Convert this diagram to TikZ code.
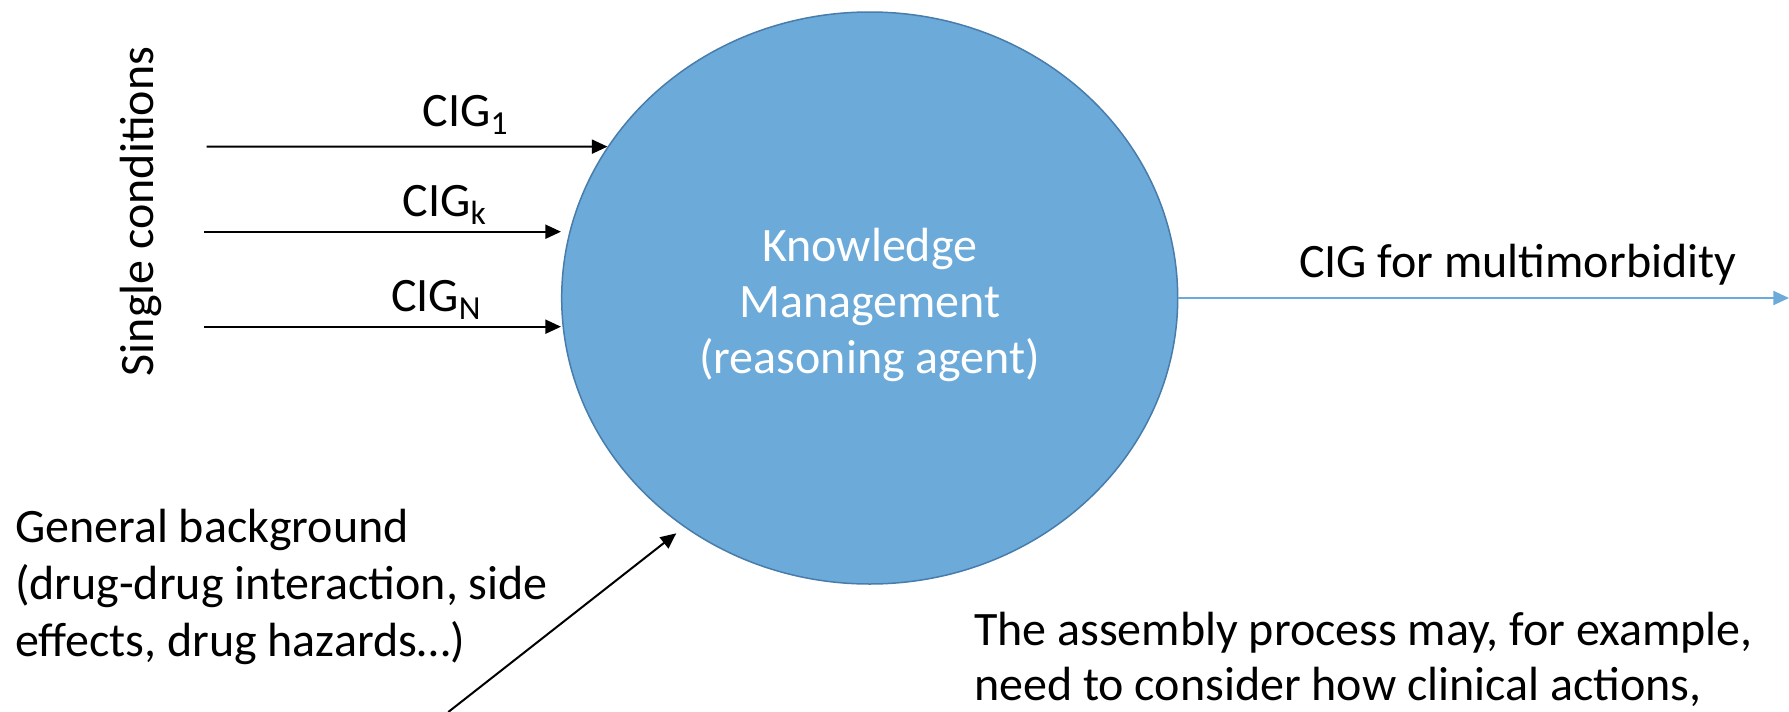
\documentclass[tikz,border=0pt]{standalone}
\usepackage{fontspec}
\setmainfont{Carlito}
\usetikzlibrary{arrows.meta,shapes.geometric}
\definecolor{kmfill}{RGB}{108,170,218}
\definecolor{kmline}{RGB}{72,124,170}

\begin{document}
\begin{tikzpicture}[x=0.5pt,y=-0.5pt,
    every node/.style={inner sep=0pt, font=\fontsize{24}{28.5}\selectfont},
    >={Triangle[length=7.8pt,width=7pt]}, line width=1pt]
    \useasboundingbox (0,0) rectangle (1789,712);
    % the reasoning agent in the middle
    \node (KM) [ellipse, draw=kmline, line width=0.75pt, fill=kmfill,
        minimum width=308pt, minimum height=286pt] at (869.7,298) {};
    \node (KT) [anchor=base, text=white, align=center,
        font=\fontsize{24}{28}\selectfont] at (KM.center |- 0,373)
        {Knowledge\\Management\\(reasoning agent)};
    % guidelines coming in on the left
    \node (SC) [rotate=90, anchor=base] at (153,211.5) {Single conditions};
    \node (C1) [anchor=base west] at (421.7,126.7) {CIG\textsubscript{1}};
    \node (Ck) [anchor=base west] at (401.7,216.7) {CIG\textsubscript{k}};
    \node (CN) [anchor=base west] at (390,311.7) {CIG\textsubscript{N}};
    \coordinate (s1) at (206.7,146.7);
    \coordinate (sk) at (204,231.7);
    \coordinate (sN) at (204,326.7);
    \draw [->] (s1) -- (KM.150);
    \draw [->] (sk) -- (sk -| KM.west);
    \draw [->] (sN) -- (sN -| KM.west);
    % background knowledge from below
    \node (GB) [anchor=base west, align=left] at (14,656.7)
        {General background\\(drug-drug interaction, side\\effects, drug hazards…)};
    \coordinate (b) at (448.3,712);
    \draw [->, shorten >=5pt] (b) -- (KM.231);
    % result on the right
    \node (MM) [anchor=base west] at (1298,277) {CIG for multimorbidity};
    \coordinate (out) at (1789,298);
    \draw [->, kmfill] (KM.east) -- (out);
    \node (AP) [anchor=base west, align=left, font=\fontsize{24}{27.5}\selectfont] at (973,700)
        {The assembly process may, for example,\\need to consider how clinical actions,};
\end{tikzpicture}
\end{document}
